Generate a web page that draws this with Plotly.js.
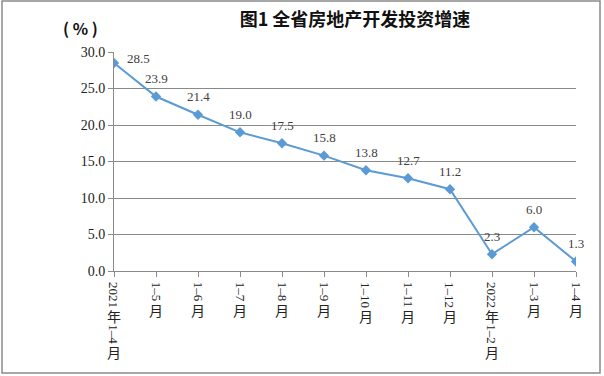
<!DOCTYPE html>
<html>
<head>
<meta charset="utf-8">
<script src="https://cdn.plot.ly/plotly-3.0.1.min.js"></script>
<style>
html,body{margin:0;padding:0;background:#fff;}
#chart{width:604px;height:376px;}
</style>
</head>
<body>
<div id="chart"></div>
<script>
const categories = ["2021年1–4月","1–5月","1–6月","1–7月","1–8月","1–9月","1–10月","1–11月","1–12月","2022年1–2月","1–3月","1–4月"];
const growth = [28.5, 23.9, 21.4, 19.0, 17.5, 15.8, 13.8, 12.7, 11.2, 2.3, 6.0, 1.3];
const yTicks = [0, 5, 10, 15, 20, 25, 30];
const titleText = "图1 全省房地产开发投资增速";
const unitText = "( % )";

const W = 604, H = 376;
const M = {l: 114, r: 28, t: 52, b: 105};
const plotW = W - M.l - M.r, plotH = H - M.t - M.b;
const serif = "'Liberation Serif', 'DejaVu Serif', serif";
const cjk = "'Noto Sans CJK SC', sans-serif";

const canvas = document.createElement('canvas');
const ctx = canvas.getContext('2d');
function textW(t, size, fam){ ctx.font = size + "px " + fam; return ctx.measureText(t).width; }

const annotations = [];

// data labels
growth.forEach((v, i) => {
  const a = {x: categories[i], y: v, xref: 'x', yref: 'y', text: v.toFixed(1), showarrow: false,
    xanchor: 'center', yanchor: 'middle', yshift: 18,
    font: {family: serif, size: 13, color: '#404040'}};
  if (i === 0) { a.xshift = 24; a.yshift = 4; }
  annotations.push(a);
});

// x tick labels: vertical text, CJK upright, Latin rotated
const latinSize = 13, cjkSize = 14, cjkCell = 16.5;
categories.forEach((lab) => {
  const runs = lab.match(/[\u4e00-\u9fff]|[^\u4e00-\u9fff]+/g);
  let pos = 11;
  runs.forEach(r => {
    const isCjk = /[\u4e00-\u9fff]/.test(r);
    const len = isCjk ? cjkCell : textW(r, latinSize, serif);
    const c = pos + len / 2;
    annotations.push({x: lab, y: 0, xref: 'x', yref: 'paper', text: r, showarrow: false,
      xanchor: 'center', yanchor: 'middle', yshift: -c, textangle: isCjk ? 0 : 90,
      borderpad: 0, borderwidth: 0,
      font: isCjk ? {family: cjk, size: cjkSize, color: '#222'} : {family: serif, size: latinSize, color: '#222'}});
    pos += len;
  });
});

// unit label
annotations.push({x: (80 - M.l) / plotW, y: 1 + (M.t - 28) / plotH, xref: 'paper', yref: 'paper',
  text: unitText, showarrow: false, xanchor: 'center', yanchor: 'middle',
  font: {family: cjk, size: 16, color: '#111', weight: 'bold'}});

// outer border
const px = x => (x - M.l) / plotW;
const py = y => (H - M.b - y) / plotH;
const shapes = [{type: 'rect', xref: 'paper', yref: 'paper', x0: px(2), x1: px(600), y0: py(373), y1: py(1),
  line: {color: '#8a8a8a', width: 1.5}, fillcolor: 'rgba(0,0,0,0)', layer: 'above'}];

const trace = {
  x: categories, y: growth, type: 'scatter', mode: 'lines+markers',
  line: {color: '#5B9BD5', width: 2},
  marker: {symbol: 'diamond', size: 8, color: '#5B9BD5'},
  hoverinfo: 'skip'
};

const layout = {
  width: W, height: H, margin: M, paper_bgcolor: '#fff', plot_bgcolor: '#fff',
  showlegend: false,
  title: {text: titleText, x: 355 / W, xref: 'container', xanchor: 'center', y: 1 - 20 / H, yref: 'container', yanchor: 'middle',
    font: {family: cjk, size: 18, color: '#111', weight: 'bold'}},
  xaxis: {type: 'category', range: [0, 11], showgrid: false, zeroline: false, showline: true, linecolor: '#8a8a8a', linewidth: 1,
    ticks: 'outside', ticklen: 5, tickcolor: '#8a8a8a', showticklabels: false, fixedrange: true},
  yaxis: {range: [0, 30], tickvals: yTicks, ticktext: yTicks.map(v => v.toFixed(1)), showgrid: true, gridcolor: '#8a8a8a', gridwidth: 1,
    zeroline: false, showline: true, linecolor: '#8a8a8a', linewidth: 1, ticks: 'outside', ticklen: 5, tickcolor: '#8a8a8a',
    tickfont: {family: serif, size: 14, color: '#222'}, fixedrange: true},
  annotations: annotations, shapes: shapes
};

Plotly.newPlot('chart', [trace], layout, {displayModeBar: false, staticPlot: true});
</script>
</body>
</html>
